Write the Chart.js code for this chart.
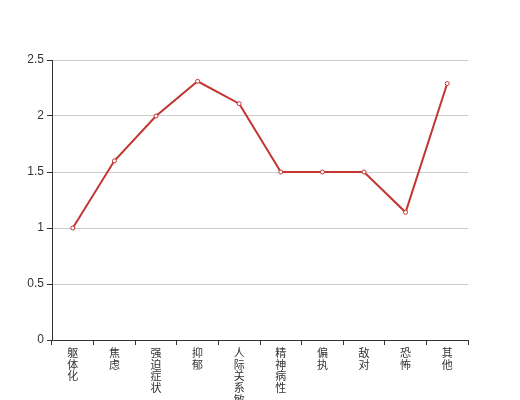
<!DOCTYPE html>
<html>
<head>
<meta charset="utf-8">
<script src="https://cdn.jsdelivr.net/npm/chart.js@4/dist/chart.umd.min.js"></script>
<style>
    html, body { margin: 0; padding: 0; background: #fff; }
    #wrap { width: 520px; height: 400px; }
</style>
</head>
<body>
<div id="wrap"><canvas id="graphique" width="520" height="400"></canvas></div>
<script>
// donnees
const categories = ['躯体化', '焦虑', '强迫症状', '抑郁', '人际关系敏感', '精神病性', '偏执', '敌对', '恐怖', '其他'];
const valeurs = [1, 1.6, 2, 2.31, 2.11, 1.5, 1.5, 1.5, 1.14, 2.29];
const yTicks = [0, 0.5, 1, 1.5, 2, 2.5];

// un caractere par ligne pour les labels verticaux
const labelsVerticaux = categories.map(c => c.split(''));

const policeChiffres = '"Liberation Sans", sans-serif';
const policeCJK = '"Noto Sans CJK SC", sans-serif';

new Chart(document.getElementById('graphique'), {
    type: 'line',
    data: {
        labels: labelsVerticaux,
        datasets: [{
            data: valeurs,
            borderColor: '#c23531',
            backgroundColor: '#ffffff',
            borderWidth: 2,
            pointRadius: 2,
            pointBorderWidth: 1,
            pointBackgroundColor: '#ffffff',
            pointBorderColor: '#c23531',
            tension: 0,
            fill: false
        }]
    },
    options: {
        responsive: false,
        animation: false,
        layout: {
            padding: {left: 0, right: 52, top: 60, bottom: 0}
        },
        plugins: {
            legend: {display: false},
            tooltip: {enabled: false}
        },
        scales: {
            x: {
                offset: true,
                grid: {
                    offset: true,
                    drawOnChartArea: false,
                    color: '#333',
                    tickLength: 5
                },
                border: {color: '#333', width: 1},
                ticks: {
                    autoSkip: false,
                    maxRotation: 0,
                    minRotation: 0,
                    padding: 2,
                    color: '#333',
                    font: {family: policeCJK, size: 11, lineHeight: '11.7px'}
                },
                afterFit: function (scale) {
                    scale.height = 60;
                }
            },
            y: {
                min: 0,
                max: 2.5,
                afterBuildTicks: function (scale) {
                    scale.ticks = yTicks.map(v => ({value: v}));
                },
                grid: {
                    color: '#cccccc',
                    tickColor: '#333',
                    tickLength: 5
                },
                border: {color: '#333', width: 1},
                ticks: {
                    padding: 3,
                    color: '#333',
                    font: {family: policeChiffres, size: 12},
                    callback: function (value) {
                        return String(value);
                    }
                },
                afterFit: function (scale) {
                    scale.width = 52;
                }
            }
        }
    }
});
</script>
</body>
</html>
